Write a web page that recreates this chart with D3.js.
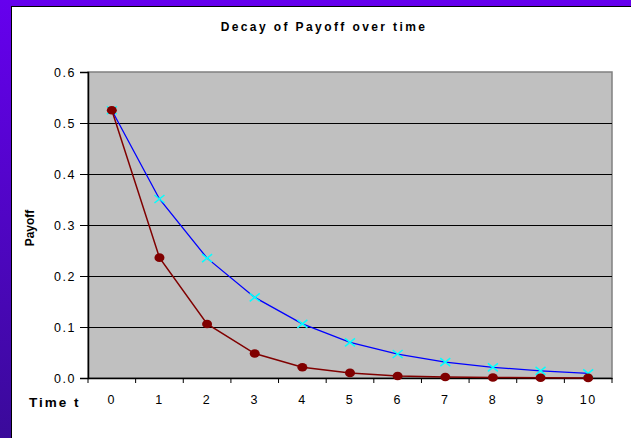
<!DOCTYPE html>
<html>
<head>
<meta charset="utf-8">
<script src="https://cdn.jsdelivr.net/npm/d3@7"></script>
<style>
  body { margin: 0; padding: 0; overflow: hidden; }
  svg { display: block; font-family: "Liberation Sans", Arial, sans-serif; }
</style>
</head>
<body>
<script>
var times = ["0", "1", "2", "3", "4", "5", "6", "7", "8", "9", "10"];
var slowDecay = [0.525, 0.351, 0.235, 0.158, 0.106, 0.070, 0.047, 0.031, 0.021, 0.014, 0.009];
var fastDecay = [0.525, 0.236, 0.106, 0.048, 0.021, 0.010, 0.004, 0.002, 0.001, 0.0004, 0.0002];
var yTicks = [0, 0.1, 0.2, 0.3, 0.4, 0.5, 0.6];

function main() {
  var W = 631, H = 438;
  var svg = d3.select("body").append("svg")
    .attr("width", W)
    .attr("height", H);

  var defs = svg.append("defs");
  var grad = defs.append("linearGradient")
    .attr("id", "bg")
    .attr("x1", 0).attr("y1", 0).attr("x2", 0).attr("y2", 1);
  grad.append("stop").attr("offset", "0%").attr("stop-color", "#6600ee");
  grad.append("stop").attr("offset", "100%").attr("stop-color", "#3a0a9a");

  svg.append("rect").attr("width", W).attr("height", H).attr("fill", "url(#bg)");
  svg.append("rect").attr("x", 11).attr("y", 6).attr("width", W).attr("height", H)
    .attr("fill", "#000");
  svg.append("rect").attr("x", 12).attr("y", 7).attr("width", W).attr("height", H)
    .attr("fill", "#fff");

  var left = 88, right = 612, top = 72, bottom = 378;

  var x = d3.scaleBand().domain(times).range([left, right]);
  var y = d3.scaleLinear().domain([0, 0.6]).range([bottom, top]);

  svg.append("rect")
    .attr("x", left).attr("y", top)
    .attr("width", right - left).attr("height", bottom - top)
    .attr("fill", "#c0c0c0")
    .attr("stroke", "#808080")
    .attr("stroke-width", 1.5);

  // gridlines
  svg.append("g").selectAll("line")
    .data(yTicks.slice(1, 6))
    .enter().append("line")
    .attr("x1", left).attr("x2", right)
    .attr("y1", function(d) { return Math.round(y(d)) + 0.5; })
    .attr("y2", function(d) { return Math.round(y(d)) + 0.5; })
    .attr("stroke", "#000");

  var yAxis = svg.append("g")
    .attr("transform", "translate(" + left + ",0)")
    .call(d3.axisLeft(y).tickValues(yTicks).tickFormat(d3.format(".1f")).tickSize(8).tickPadding(4));
  yAxis.select(".domain").attr("stroke", "#000").attr("stroke-width", 1.5);
  yAxis.selectAll("text").attr("font-size", 12.5).attr("letter-spacing", 1.5).attr("fill", "#000");

  var xAxis = svg.append("g")
    .attr("transform", "translate(0," + bottom + ")")
    .call(d3.axisBottom(x).tickSize(0).tickPadding(17));
  xAxis.select(".domain").attr("stroke", "#000").attr("stroke-width", 1.5);
  xAxis.selectAll("text").attr("font-size", 12.5).attr("letter-spacing", 1.5).attr("fill", "#000");
  xAxis.selectAll(".boundary")
    .data(times.concat(["end"]))
    .enter().append("line")
    .attr("class", "boundary")
    .attr("x1", function(d, i) { return i < times.length ? x(d) : right; })
    .attr("x2", function(d, i) { return i < times.length ? x(d) : right; })
    .attr("y1", 0).attr("y2", 5)
    .attr("stroke", "#000");

  var line = function(vals) {
    return d3.line()
      .x(function(d, i) { return x(times[i]) + x.bandwidth() / 2; })
      .y(function(d) { return y(d); })(vals);
  };

  svg.append("path")
    .attr("d", line(slowDecay))
    .attr("fill", "none")
    .attr("stroke", "#0000ff")
    .attr("stroke-width", 1.3);

  svg.append("g").selectAll("path")
    .data(slowDecay)
    .enter().append("path")
    .attr("transform", function(d, i) {
      return "translate(" + (x(times[i]) + x.bandwidth() / 2) + "," + y(d) + ")";
    })
    .attr("d", "M-5,-4L5,4M-5,4L5,-4")
    .attr("stroke", "#00ffff")
    .attr("stroke-width", 1.5);

  svg.append("path")
    .attr("d", line(fastDecay))
    .attr("fill", "none")
    .attr("stroke", "#800000")
    .attr("stroke-width", 1.5);

  svg.append("g").selectAll("ellipse")
    .data(fastDecay)
    .enter().append("ellipse")
    .attr("cx", function(d, i) { return x(times[i]) + x.bandwidth() / 2; })
    .attr("cy", function(d) { return y(d); })
    .attr("rx", 5).attr("ry", 4.3)
    .attr("fill", "#800000");

  svg.append("text")
    .attr("x", 324).attr("y", 31)
    .attr("text-anchor", "middle")
    .attr("font-size", 12)
    .attr("font-weight", "bold")
    .attr("letter-spacing", 2.4)
    .text("Decay of Payoff over time");

  svg.append("text")
    .attr("transform", "translate(34,228) rotate(-90)")
    .attr("text-anchor", "middle")
    .attr("font-size", 12)
    .attr("font-weight", "bold")
    .text("Payoff");

  svg.append("text")
    .attr("x", 29).attr("y", 407)
    .attr("font-size", 13.5)
    .attr("font-weight", "bold")
    .attr("letter-spacing", 2)
    .text("Time t");
}
main();
</script>
</body>
</html>
